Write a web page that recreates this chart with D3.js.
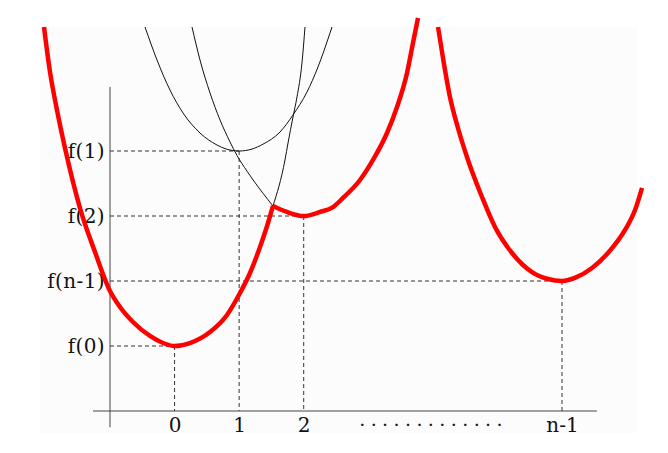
<!DOCTYPE html>
<html>
<head>
<meta charset="utf-8">
<script src="https://cdn.jsdelivr.net/npm/d3@7/dist/d3.min.js"></script>
<style>
  body { margin: 0; background: #fff; }
  svg { display: block; }
  text { font-family: "DejaVu Serif", serif; fill: #111; }
</style>
</head>
<body>
<div id="chart"></div>
<script>
// tick labels and where they sit (x in index units, y in value units)
var xTickLabels = ["0", "1", "2", "n-1"];
var xTickValues = [0, 1, 2, 6];
var yTickLabels = ["f(0)", "f(1)", "f(2)", "f(n-1)"];
var yTickValues = [1, 4, 3, 2];

// red lower envelope, in three pieces [index, value]
var redLeft = [[-2.022,5.908],[-1.929,5.215],[-1.821,4.631],[-1.697,4.046],[-1.465,3.123],[-1.232,2.446],
  [-1.0,1.846],[-0.845,1.6],[-0.644,1.369],[-0.381,1.154],[-0.179,1.046],[0,1.0],[0.239,1.046],
  [0.549,1.215],[0.812,1.477],[1.013,1.815],[1.168,2.123],[1.323,2.523],[1.447,2.892],[1.524,3.154]];
var redMid = [[1.524,3.154],[1.741,3.062],[2.0,3.0],[2.252,3.062],[2.454,3.138],[2.608,3.277],
  [2.872,3.554],[3.073,3.862],[3.290,4.277],[3.445,4.677],[3.600,5.2],[3.692,5.662],[3.770,6.046]];
var redRight = [[4.080,5.908],[4.157,5.431],[4.265,4.831],[4.389,4.354],[4.544,3.862],[4.761,3.292],
  [4.962,2.831],[5.226,2.431],[5.535,2.138],[5.783,2.031],[6.0,2.0],[6.217,2.055],[6.465,2.2],
  [6.712,2.431],[6.976,2.785],[7.131,3.092],[7.239,3.431]];

// thin black parabolas (parts above the envelope)
var blackWide = [[-0.458,5.908],[-0.272,5.4],[-0.071,4.938],[0.131,4.585],[0.394,4.277],[0.657,4.092],
  [0.8,4.03],[1.0,4.0],[1.2,4.03],[1.369,4.105],[1.633,4.292],[1.834,4.554],[2.051,4.908],[2.221,5.292],
  [2.407,5.815],[2.438,5.908]];
var blackTwoLeft = [[0.270,5.908],[0.394,5.4],[0.549,4.892],[0.704,4.477],[0.858,4.14],[0.967,3.93],
  [1.122,3.69],[1.369,3.35],[1.524,3.154]];
var blackZeroRight = [[1.524,3.154],[1.710,3.862],[1.757,4.123],[1.834,4.523],[1.896,4.831],
  [1.973,5.354],[2.020,5.908]];

var width = 668, height = 453;

var x = d3.scaleLinear().domain([-1, 6]).range([110, 562]);
var y = d3.scaleLinear().domain([0, 5]).range([411, 86]);

var svg = d3.select("#chart").append("svg")
  .attr("width", width)
  .attr("height", height);

// faint paper background
svg.append("rect")
  .attr("x", 40).attr("y", 27)
  .attr("width", 597).attr("height", 406)
  .attr("fill", "#fcfcfc");

// dashed guide lines
yTickValues.forEach(function (v, i) {
  var u = xTickValues[i];
  svg.append("line")
    .attr("x1", x(-1)).attr("x2", x(u))
    .attr("y1", y(v)).attr("y2", y(v))
    .attr("stroke", "#333").attr("stroke-width", 1)
    .attr("stroke-dasharray", "4,3");
  svg.append("line")
    .attr("x1", x(u)).attr("x2", x(u))
    .attr("y1", y(v)).attr("y2", y(0))
    .attr("stroke", "#333").attr("stroke-width", 1)
    .attr("stroke-dasharray", "4,3");
});

// axes lines
svg.append("line")
  .attr("x1", x(-1.263)).attr("x2", x(6.54))
  .attr("y1", y(0)).attr("y2", y(0))
  .attr("stroke", "#444").attr("stroke-width", 1);
svg.append("line")
  .attr("x1", x(-1)).attr("x2", x(-1))
  .attr("y1", y(4.985)).attr("y2", y(-0.25))
  .attr("stroke", "#444").attr("stroke-width", 1);

// x tick labels
var xAxis = d3.axisBottom(x)
  .tickValues(xTickValues)
  .tickSize(0)
  .tickPadding(7)
  .tickFormat(function (d, i) { return xTickLabels[i]; });
var gx = svg.append("g")
  .attr("transform", "translate(0," + y(0) + ")")
  .call(xAxis);
gx.select(".domain").remove();
gx.selectAll("text")
  .attr("font-family", "DejaVu Serif")
  .attr("font-size", 20)
  .attr("fill", "#111");

// y tick labels
var yAxis = d3.axisLeft(y)
  .tickValues(yTickValues)
  .tickSize(0)
  .tickPadding(5)
  .tickFormat(function (d, i) { return yTickLabels[i]; });
var gy = svg.append("g")
  .attr("transform", "translate(" + x(-1) + ",0)")
  .call(yAxis);
gy.select(".domain").remove();
gy.selectAll("text")
  .attr("font-family", "DejaVu Serif")
  .attr("font-size", 20)
  .attr("letter-spacing", 0.4)
  .attr("fill", "#111");

// the dots between 2 and n-1
svg.append("text")
  .attr("x", x(2.86))
  .attr("y", y(0) + 15)
  .attr("font-size", 19)
  .attr("letter-spacing", 5.4)
  .text(".............");

var line = d3.line()
  .x(function (d) { return x(d[0]); })
  .y(function (d) { return y(d[1]); })
  .curve(d3.curveMonotoneX);

[blackWide, blackTwoLeft, blackZeroRight].forEach(function (d) {
  svg.append("path")
    .attr("d", line(d))
    .attr("fill", "none")
    .attr("stroke", "#111")
    .attr("stroke-width", 1);
});

[redLeft, redMid, redRight].forEach(function (d) {
  svg.append("path")
    .attr("d", line(d))
    .attr("fill", "none")
    .attr("stroke", "#ff0000")
    .attr("stroke-width", 4.5)
    .attr("stroke-linejoin", "round");
});
</script>
</body>
</html>
